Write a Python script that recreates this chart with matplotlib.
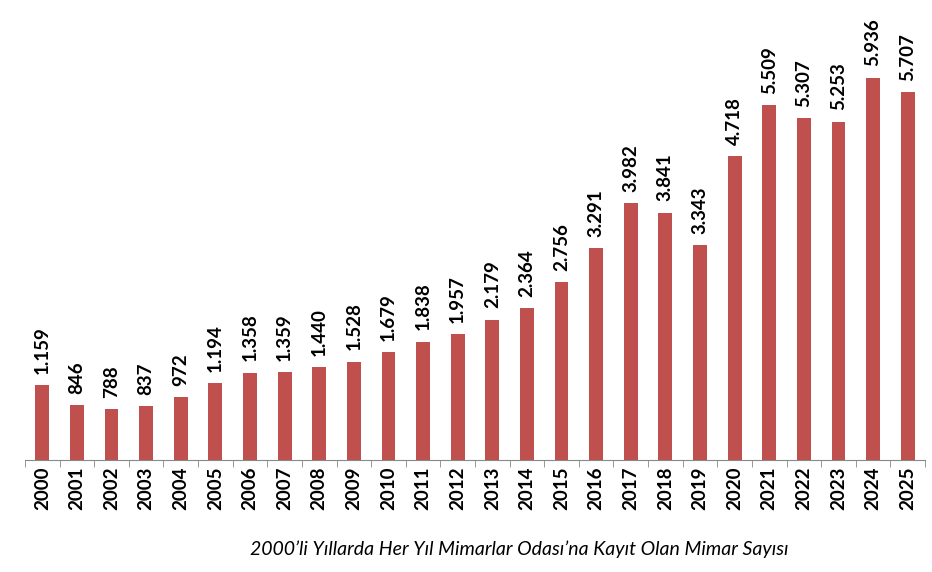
import matplotlib.pyplot as plt
import numpy as np

years = [str(y) for y in range(2000, 2026)]
counts = [1159, 846, 788, 837, 972, 1194, 1358, 1359, 1440, 1528, 1679, 1838, 1957,
          2179, 2364, 2756, 3291, 3982, 3841, 3343, 4718, 5509, 5307, 5253, 5936, 5707]
caption = "2000\u2019li Yıllarda Her Yıl Mimarlar Odası\u2019na Kayıt Olan Mimar Sayısı"

BAR_COLOR = "#C0504D"
AXIS_COLOR = "#888888"


def fmt(v: int) -> str:
    return f"{v:,}".replace(",", ".")


def main() -> None:
    fig = plt.figure(figsize=(9.32, 5.72), dpi=100)
    ax = fig.add_axes([25 / 932, 112 / 572, 900 / 932, 451 / 572])

    x = np.arange(len(years))
    ax.bar(x, counts, width=0.4, color=BAR_COLOR)

    for xi, v in zip(x, counts):
        ax.annotate(fmt(v), (xi, v), xytext=(0, 8), textcoords="offset points",
                    rotation=90, ha="center", va="bottom",
                    fontsize=13.5, fontweight="bold", family="Lato")

    ax.set_xlim(-0.5, len(years) - 0.5)
    ax.set_ylim(0, 7000)
    ax.set_xticks(x)
    ax.set_xticklabels(years, rotation=90, fontsize=13.5, fontweight="bold", family="Lato")
    ax.set_xticks(np.arange(len(years) + 1) - 0.5, minor=True)
    ax.tick_params(axis="x", which="major", length=0, pad=5)
    ax.tick_params(axis="x", which="minor", length=5, color=AXIS_COLOR, direction="out")
    ax.set_yticks([])

    for side in ("top", "right", "left"):
        ax.spines[side].set_visible(False)
    ax.spines["bottom"].set_color(AXIS_COLOR)

    fig.text(519 / 932, 1 - 549 / 572, caption, ha="center", va="center",
             fontsize=14, style="italic", family="Lato")

    fig.savefig("out.png", dpi=100)
    plt.close(fig)


if __name__ == "__main__":
    main()
